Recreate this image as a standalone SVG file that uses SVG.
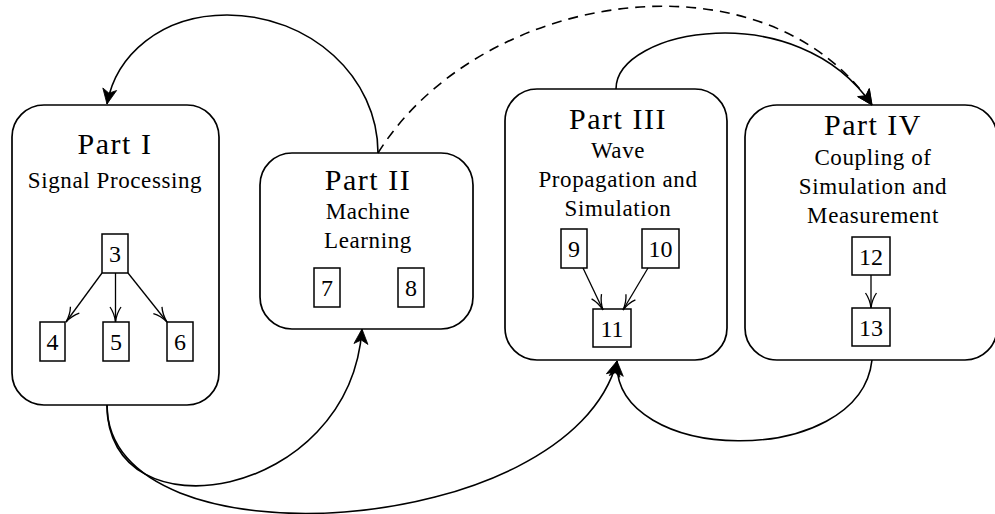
<svg xmlns="http://www.w3.org/2000/svg" width="995" height="514" viewBox="0 0 995 514">
<style>
.part{fill:#fff;stroke:#000;stroke-width:1.7}
.box{fill:#fff;stroke:#000;stroke-width:1.5}
.t{font-family:"Liberation Serif","Times New Roman",serif;fill:#000;text-anchor:middle}
.title{font-size:30px;letter-spacing:1.5px}
.sub{font-size:23px;letter-spacing:0.6px}
.num{font-size:24px}
.big{fill:none;stroke:#000;stroke-width:1.6}
.dash{stroke-dasharray:10 7}
.small{fill:none;stroke:#000;stroke-width:1.3}
</style>
<defs>
<marker id="stealth" viewBox="-16 -8 17 16" markerWidth="17" markerHeight="16" refX="0" refY="0" orient="auto" markerUnits="userSpaceOnUse" overflow="visible">
<path d="M0,0 L-15,-7 L-11,0 L-15,7 Z" fill="#000" stroke="#000" stroke-width="0.8" stroke-linejoin="miter"/>
</marker>
<marker id="to" viewBox="-16 -7 17 14" markerWidth="17" markerHeight="14" refX="0" refY="0" orient="auto" markerUnits="userSpaceOnUse" overflow="visible">
<path d="M-15,-5.5 C-10,-2 -4,-0.5 0,0 C-4,0.5 -10,2 -15,5.5" fill="none" stroke="#000" stroke-width="1.3"/>
</marker>
</defs>

<g id="part1">
<rect class="part" x="12" y="105" width="207" height="300" rx="32" ry="32"/>
<text class="t title" x="115" y="154">Part I</text>
<text class="t sub" x="115" y="188">Signal Processing</text>
</g>
<g id="n3"><rect class="box" x="102" y="234" width="26" height="39"/><text class="t num" x="115" y="262">3</text></g>
<g id="n4"><rect class="box" x="40" y="322" width="25" height="39"/><text class="t num" x="52.5" y="350">4</text></g>
<g id="n5"><rect class="box" x="103" y="322" width="26" height="39"/><text class="t num" x="116" y="350">5</text></g>
<g id="n6"><rect class="box" x="167" y="322" width="26" height="39"/><text class="t num" x="180" y="350">6</text></g>

<g id="part2">
<rect class="part" x="260" y="153" width="213" height="176" rx="32" ry="32"/>
<text class="t title" x="368" y="190">Part II</text>
<text class="t sub" x="368" y="219">Machine</text>
<text class="t sub" x="368" y="248">Learning</text>
</g>
<g id="n7"><rect class="box" x="314" y="268" width="26" height="39"/><text class="t num" x="327" y="296">7</text></g>
<g id="n8"><rect class="box" x="398" y="268" width="26" height="39"/><text class="t num" x="411" y="296">8</text></g>

<g id="part3">
<rect class="part" x="505" y="89" width="222" height="271" rx="32" ry="32"/>
<text class="t title" x="618" y="129">Part III</text>
<text class="t sub" x="618" y="158">Wave</text>
<text class="t sub" x="618" y="187">Propagation and</text>
<text class="t sub" x="618" y="216">Simulation</text>
</g>
<g id="n9"><rect class="box" x="561" y="229" width="26" height="39"/><text class="t num" x="574" y="257">9</text></g>
<g id="n10"><rect class="box" x="642" y="229" width="37" height="39"/><text class="t num" x="660.5" y="257">10</text></g>
<g id="n11"><rect class="box" x="593" y="309" width="38" height="38"/><text class="t num" x="612" y="337">11</text></g>

<g id="part4">
<rect class="part" x="745" y="105" width="252" height="255" rx="32" ry="32"/>
<text class="t title" x="873" y="135">Part IV</text>
<text class="t sub" x="873" y="165">Coupling of</text>
<text class="t sub" x="873" y="194">Simulation and</text>
<text class="t sub" x="873" y="223">Measurement</text>
</g>
<g id="n12"><rect class="box" x="852" y="237" width="38" height="38"/><text class="t num" x="871" y="265">12</text></g>
<g id="n13"><rect class="box" x="852" y="308" width="38" height="38"/><text class="t num" x="871" y="336">13</text></g>

<g id="connectors">
<path class="small" d="M102,273 L66,322" marker-end="url(#to)"/>
<path class="small" d="M115.5,273 L115.5,322" marker-end="url(#to)"/>
<path class="small" d="M128,273 L167,322" marker-end="url(#to)"/>
<path class="small" d="M583,268 L603,310" marker-end="url(#to)"/>
<path class="small" d="M648,268 L623,310" marker-end="url(#to)"/>
<path class="small" d="M871,275 L871,308" marker-end="url(#to)"/>

<path class="big" d="M378,153 C378,77 310,15 227,15 C161,15 116,55 107,104" marker-end="url(#stealth)"/>
<path class="big dash" d="M378,153 C480,-10 763,-53 872,105" marker-end="url(#stealth)"/>
<path class="big" d="M616,89 C616,29 797,-5 872,105" marker-end="url(#stealth)"/>
<path class="big" d="M107,405 C107,540 350,500 362,329" marker-end="url(#stealth)"/>
<path class="big" d="M107,405 C107,570 570,540 617,361" marker-end="url(#stealth)"/>
<path class="big" d="M872,360 C860,470 612,465 617,361" marker-end="url(#stealth)"/>
</g>
</svg>
